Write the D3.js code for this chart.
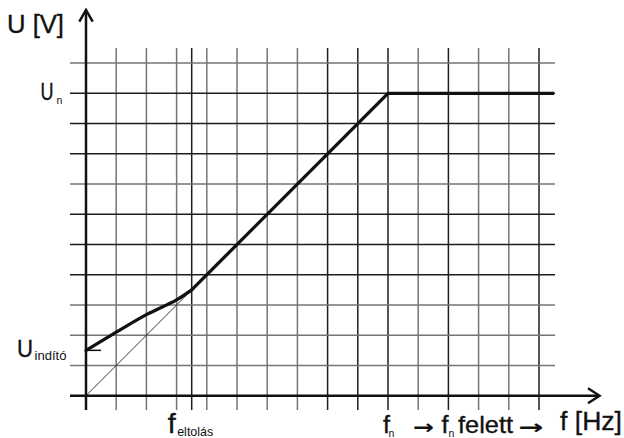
<!DOCTYPE html>
<html>
<head>
<meta charset="utf-8">
<script src="https://cdn.jsdelivr.net/npm/d3@7"></script>
<style>
  html, body { margin: 0; padding: 0; background: #fff; }
  svg { display: block; }
  text { font-family: "Liberation Sans", Arial, sans-serif; fill: #111; }
  text.big { stroke: #111; stroke-width: 0.35; }
  text.arrow { font-family: "DejaVu Sans", sans-serif; font-weight: bold; }
</style>
</head>
<body>
<svg id="chart" width="624" height="438"></svg>
<script>
// ---- data ----
const fGrid = [1, 2, 3, 3.5, 4, 5, 6, 7, 8, 9, 10, 11, 12, 13, 14, 15];
const uGrid = [1, 2, 3, 4, 5, 6, 7, 8, 9, 10, 11];
const startF = [0, 1, 2, 3, 3.5];
const startU = [1.5, 2.1, 2.68, 3.17, 3.5];
const rampF = [3.5, 10, 15.5];
const rampU = [3.5, 10, 10];
const refF = [0, 3.5];
const refU = [0, 3.5];
const uIndito = 1.5;
const fEltolas = 3.5;
const fN = 10;
const uN = 10;

// ---- styles ----
const darkF = new Set([3.5, 8, 9, 10, 12, 15]);
const darkU = new Set([4, 5, 6, 8, 9, 10]);

const svg = d3.select("#chart");
const x = d3.scaleLinear().domain([0, 15]).range([86, 539]);
const y = d3.scaleLinear().domain([0, 10]).range([395.7, 93.3]);

const fMinGrid = -0.53, fMaxGrid = 15.53;
const uMinGrid = -0.47, uMaxGrid = 11.5;

// grid verticals
svg.append("g").selectAll("line").data(fGrid).join("line")
  .attr("x1", d => x(d)).attr("x2", d => x(d))
  .attr("y1", y(uMaxGrid)).attr("y2", y(uMinGrid))
  .attr("stroke", d => darkF.has(d) ? "#1e1e1e" : "#757575")
  .attr("stroke-width", 1.5);

// grid horizontals
svg.append("g").selectAll("line").data(uGrid).join("line")
  .attr("x1", x(fMinGrid)).attr("x2", x(fMaxGrid))
  .attr("y1", d => y(d)).attr("y2", d => y(d))
  .attr("stroke", d => darkU.has(d) ? "#1e1e1e" : "#757575")
  .attr("stroke-width", 1.5);

// axes
const ax = svg.append("g").attr("stroke", "#111").attr("fill", "none");
ax.append("line").attr("x1", x(0)).attr("x2", x(0)).attr("y1", y(uMinGrid)).attr("y2", 10).attr("stroke-width", 2.5);
ax.append("path").attr("d", `M${x(0) - 6.7},21.7 L${x(0)},10 L${x(0) + 6.7},21.7`).attr("stroke-width", 2.5);
ax.append("line").attr("x1", x(fMinGrid)).attr("x2", 599).attr("y1", y(0)).attr("y2", y(0)).attr("stroke-width", 2.5);
ax.append("path").attr("d", `M588,${y(0) - 7.5} L599.5,${y(0)} L588,${y(0) + 7.5}`).attr("stroke-width", 2.5);

// U_indító tick
svg.append("line").attr("x1", x(0)).attr("x2", x(0.5)).attr("y1", y(uIndito)).attr("y2", y(uIndito))
  .attr("stroke", "#111").attr("stroke-width", 1.5);

// thin reference diagonal
const lineLin = d3.line().x(d => x(d[0])).y(d => y(d[1]));
svg.append("path").datum(refF.map((f, i) => [f, refU[i]]))
  .attr("d", lineLin).attr("fill", "none").attr("stroke", "#222").attr("stroke-width", 0.9);

// startup curve
const lineCurve = d3.line().x(d => x(d[0])).y(d => y(d[1])).curve(d3.curveCatmullRom.alpha(0.5));
svg.append("path").datum(startF.map((f, i) => [f, startU[i]]))
  .attr("d", lineCurve).attr("fill", "none").attr("stroke", "#111").attr("stroke-width", 3.3)
  .attr("stroke-linecap", "round");

// ramp + flat
svg.append("path").datum(rampF.map((f, i) => [f, rampU[i]]))
  .attr("d", lineLin).attr("fill", "none").attr("stroke", "#111").attr("stroke-width", 3.3)
  .attr("stroke-linejoin", "miter");

// ---- labels ----
svg.append("text").attr("class", "big").attr("x", 7).attr("y", 33).attr("font-size", 25.5)
  .attr("textLength", 57).attr("lengthAdjust", "spacingAndGlyphs").text("U [V]");

// U_n
svg.append("text").attr("class", "big").attr("x", 40.5).attr("y", y(uN) + 7).attr("font-size", 24)
  .attr("textLength", 13).attr("lengthAdjust", "spacingAndGlyphs").text("U");
svg.append("text").attr("x", 56.5).attr("y", y(uN) + 10.5).attr("font-size", 10.5).text("n");

// U_indító
svg.append("text").attr("class", "big").attr("x", 17).attr("y", y(uIndito) + 7).attr("font-size", 24)
  .attr("textLength", 16).attr("lengthAdjust", "spacingAndGlyphs").text("U");
svg.append("text").attr("x", 34.5).attr("y", y(uIndito) + 9.5).attr("font-size", 12.5)
  .attr("textLength", 32).attr("lengthAdjust", "spacingAndGlyphs").text("indító");

// f_eltolás
svg.append("text").attr("class", "big").attr("x", x(fEltolas) - 24).attr("y", 433).attr("font-size", 27)
  .attr("textLength", 8).attr("lengthAdjust", "spacingAndGlyphs").text("f");
svg.append("text").attr("x", x(fEltolas) - 14.5).attr("y", 435.5).attr("font-size", 13)
  .attr("textLength", 36).attr("lengthAdjust", "spacingAndGlyphs").text("eltolás");

// f_n
svg.append("text").attr("class", "big").attr("x", x(fN) - 5).attr("y", 433).attr("font-size", 23)
  .attr("textLength", 7).attr("lengthAdjust", "spacingAndGlyphs").text("f");
svg.append("text").attr("x", x(fN) + 0.5).attr("y", 437).attr("font-size", 10.5).text("n");

// → f_n felett →
svg.append("text").attr("class", "arrow").attr("x", 413).attr("y", 434).attr("font-size", 20)
  .attr("textLength", 21).attr("lengthAdjust", "spacingAndGlyphs").text("→");
svg.append("text").attr("class", "big").attr("x", 441.5).attr("y", 433).attr("font-size", 23)
  .attr("textLength", 7).attr("lengthAdjust", "spacingAndGlyphs").text("f");
svg.append("text").attr("x", 448.5).attr("y", 437).attr("font-size", 10.5).text("n");
svg.append("text").attr("class", "big").attr("x", 458).attr("y", 433).attr("font-size", 24)
  .attr("textLength", 55).attr("lengthAdjust", "spacingAndGlyphs").text("felett");
svg.append("text").attr("class", "arrow").attr("x", 518.5).attr("y", 434).attr("font-size", 20)
  .attr("textLength", 25).attr("lengthAdjust", "spacingAndGlyphs").text("→");

svg.append("text").attr("class", "big").attr("x", 560).attr("y", 430).attr("font-size", 26)
  .attr("textLength", 62).attr("lengthAdjust", "spacingAndGlyphs").text("f [Hz]");
</script>
</body>
</html>
